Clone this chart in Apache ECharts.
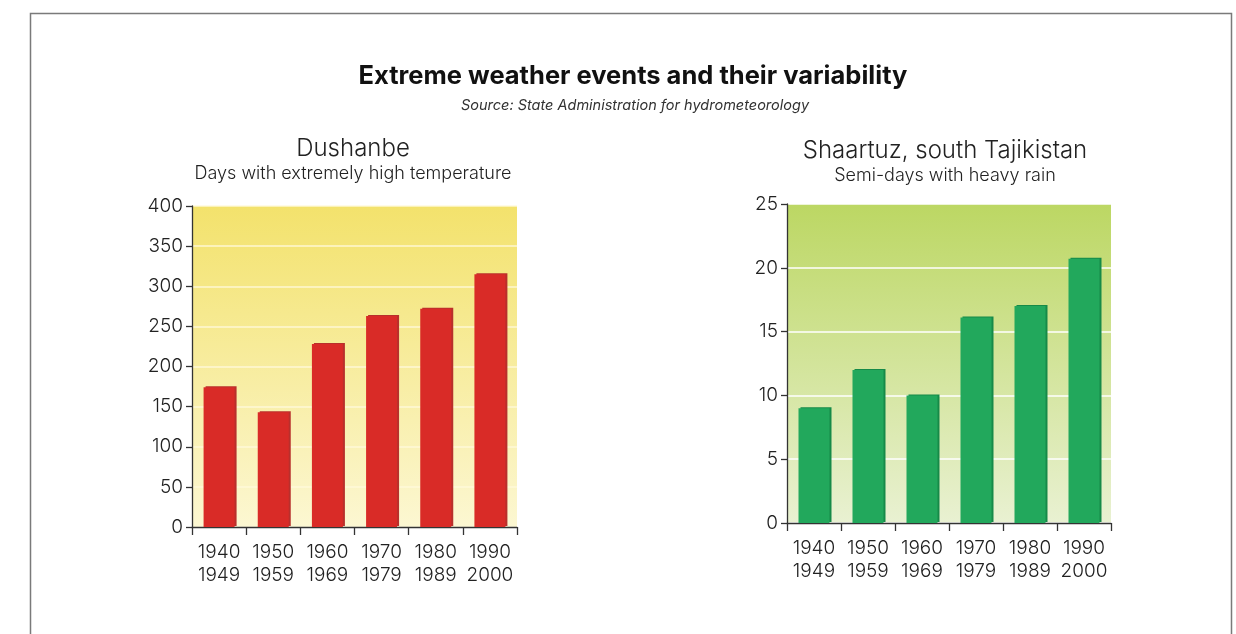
<!DOCTYPE html>
<html><head><meta charset="utf-8">
<script src="https://cdn.jsdelivr.net/npm/echarts@6/dist/echarts.min.js"></script>
<style>html,body{margin:0;padding:0;background:#fff}#c{width:1236px;height:634px}</style>
</head><body><div id="c"></div>
<script>
const periods = ['1940\n1949','1950\n1959','1960\n1969','1970\n1979','1980\n1989','1990\n2000'];
const hotDays = [174, 143, 228, 263, 272, 315];
const rainSemiDays = [9, 12, 10, 16.1, 17, 20.7];
const FONT = 'Inter, "Liberation Sans", Arial, sans-serif';

const chart = echarts.init(document.getElementById('c'));
function grad(top, bottom){
  return {type:'linear',x:0,y:0,x2:0,y2:1,colorStops:[{offset:0,color:top},{offset:1,color:bottom}]};
}
function xAxis(gi){
  return {type:'category', gridIndex:gi, data:periods, boundaryGap:true,
    axisLine:{lineStyle:{color:'#333', width:1.3}},
    axisTick:{show:true, length:8, inside:false, alignWithLabel:false, lineStyle:{color:'#333', width:1.3}},
    axisLabel:{margin:14, lineHeight:23, interval:0, color:'#222', fontSize:19, fontFamily:FONT, fontWeight:300}};
}
function yAxis(gi, max, interval, gridColor){
  return {type:'value', gridIndex:gi, min:0, max:max, interval:interval,
    axisLine:{show:true, lineStyle:{color:'#333', width:1.3}},
    axisTick:{show:true, length:6, lineStyle:{color:'#333', width:1.3}},
    axisLabel:{margin:9, color:'#222', fontSize:19, fontFamily:FONT, fontWeight:300},
    splitLine:{show:true, lineStyle:{color:gridColor, width:1.5}}};
}
chart.setOption({
  animation:false,
  graphic:[{type:'rect', shape:{x:30.5, y:13.5, width:1201, height:700}, style:{fill:null, stroke:'#7a7a7a', lineWidth:1.5}}],
  title:[
    {text:'Extreme weather events and their variability', left:628, textAlign:'center', top:58,
      textStyle:{fontFamily:FONT, fontSize:25.5, fontWeight:'bold', color:'#111'}},
    {text:'Source: State Administration for hydrometeorology', left:630, textAlign:'center', top:93,
      textStyle:{fontFamily:FONT, fontSize:14.5, fontStyle:'italic', fontWeight:'normal', color:'#333'}},
    {text:'Dushanbe', subtext:'Days with extremely high temperature', left:348, textAlign:'center', top:132, itemGap:4,
      textStyle:{fontFamily:FONT, fontSize:24, fontWeight:300, color:'#222'},
      subtextStyle:{fontFamily:FONT, fontSize:18, fontWeight:300, color:'#222'}},
    {text:'Shaartuz, south Tajikistan', subtext:'Semi-days with heavy rain', left:940, textAlign:'center', top:134, itemGap:4,
      textStyle:{fontFamily:FONT, fontSize:24, fontWeight:300, color:'#222'},
      subtextStyle:{fontFamily:FONT, fontSize:18, fontWeight:300, color:'#222'}}
  ],
  grid:[
    {left:192, right:719, top:206, bottom:107, show:true, borderWidth:0, backgroundColor:grad('#f3e26c','#fcf7d2')},
    {left:787, right:125, top:204, bottom:111, show:true, borderWidth:0, backgroundColor:grad('#bcd763','#e9f1d2')}
  ],
  xAxis:[xAxis(0), xAxis(1)],
  yAxis:[yAxis(0, 400, 50, 'rgba(255,250,220,0.9)'), yAxis(1, 25, 5, '#ffffff')],
  series:[
    {type:'bar', xAxisIndex:0, yAxisIndex:0, data:hotDays, barWidth:31,
      itemStyle:{color:'#d92b27', shadowColor:'#b8302c', shadowOffsetX:2, shadowOffsetY:-1, shadowBlur:0}},
    {type:'bar', xAxisIndex:1, yAxisIndex:1, data:rainSemiDays, barWidth:31,
      itemStyle:{color:'#22a85c', shadowColor:'#168a48', shadowOffsetX:2, shadowOffsetY:-1, shadowBlur:0}}
  ]
});
</script></body></html>
